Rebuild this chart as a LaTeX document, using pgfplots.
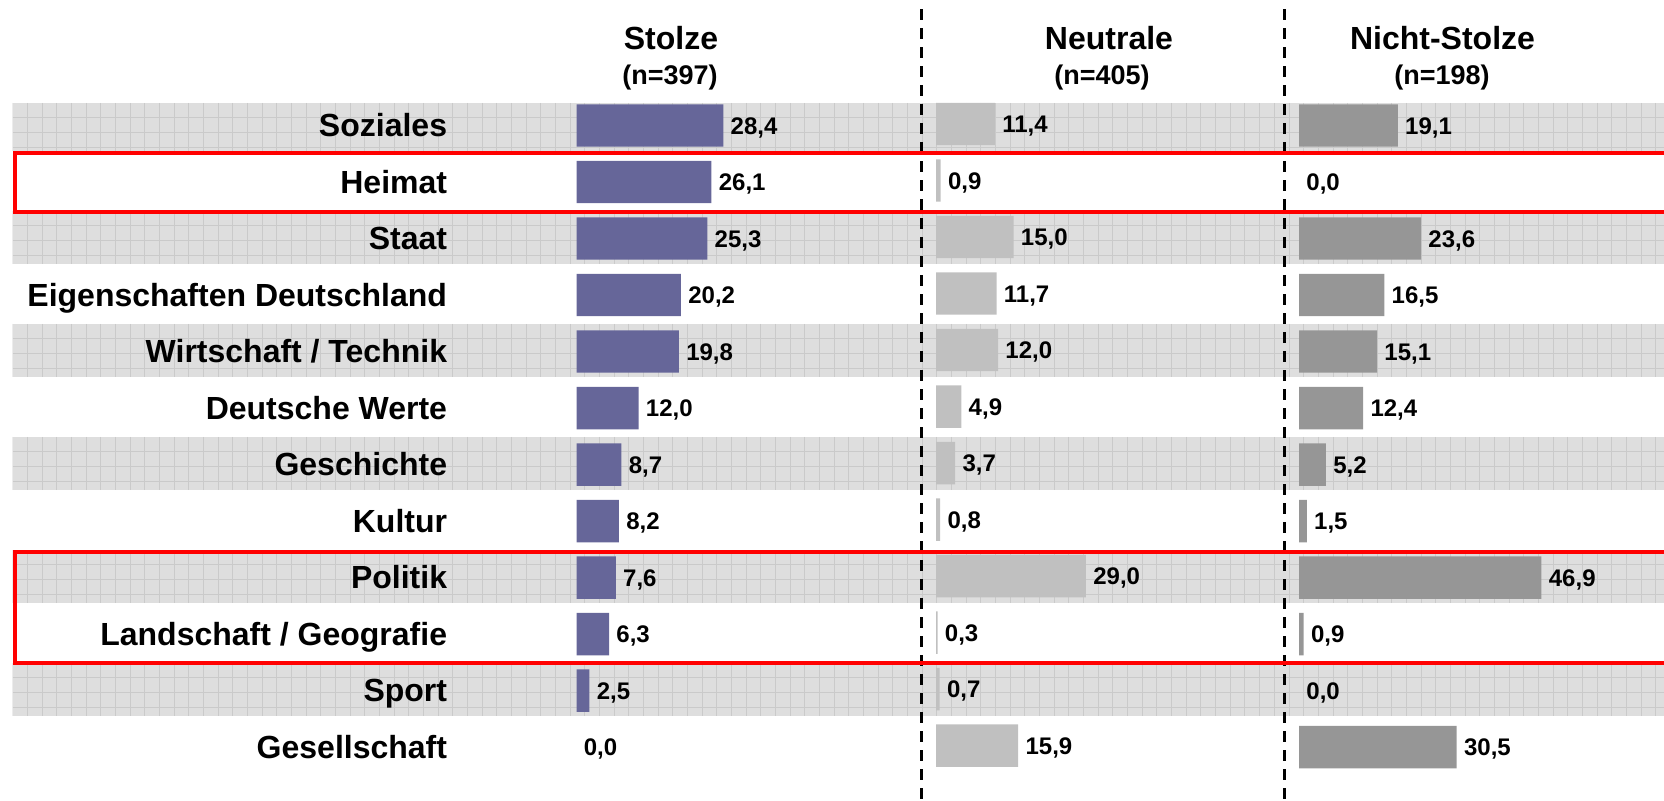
\documentclass[border=0pt]{standalone}
\usepackage{pgfplots}
\pgfplotsset{compat=1.18}
\usepackage{pgfplotstable}
\usepackage{fontspec}
\setmainfont{Liberation Sans}
\definecolor{stolz}{RGB}{102,102,153}
\definecolor{neutr}{RGB}{192,192,192}
\definecolor{nicht}{RGB}{150,150,150}
\definecolor{bandc}{RGB}{222,222,222}
\definecolor{gridc}{RGB}{202,202,202}

\pgfplotstableread{
row stolze neutrale nicht
0 28.4 11.4 19.1
1 26.1 0.9 0.0
2 25.3 15.0 23.6
3 20.2 11.7 16.5
4 19.8 12.0 15.1
5 12.0 4.9 12.4
6 8.7 3.7 5.2
7 8.2 0.8 1.5
8 7.6 29.0 46.9
9 6.3 0.3 0.9
10 2.5 0.7 0.0
11 0.0 15.9 30.5
}\data

\newcommand{\band}[2]{%
  \fill[bandc] (12.7,#1) rectangle (1664,#2);
  \begin{scope}
    \clip (12.7,#1) rectangle (1664,#2);
    \foreach \gx in {0,...,113} {\draw[gridc, line width=0.5pt] ({12.7+14.67*\gx},#1) -- ({12.7+14.67*\gx},#2);}
    \foreach \gy in {1,...,4} {\draw[gridc, line width=0.5pt] (12.7,{#1+14.67*\gy}) -- (1664,{#1+14.67*\gy});}
  \end{scope}}

\pgfplotsset{
  panel/.style={
    scale only axis, anchor=north west, height=339pt,
    xmin=0, ymin=-0.5, ymax=11.5, y dir=reverse,
    xbar, bar width=0.752, bar shift=0pt,
    axis line style={draw=none}, tick style={draw=none},
    xtick=\empty, ytick=\empty, clip=false,
    point meta=x,
    every node near coord/.append style={font=\bfseries\fontsize{12}{14}\selectfont,
      anchor=base west, inner sep=0pt, xshift=3.5pt, yshift=-4.3pt, text=black},
    /pgf/number format/.cd, fixed, fixed zerofill, precision=1, use comma, assume math mode=true,
  },
  bars/.style={fill=#1, draw=none, restrict x to domain=0.05:100},
  vals/.style={fill=none, draw=none, nodes near coords, nodes near coords align=horizontal},
}

\begin{document}
\begin{tikzpicture}
\path[use as bounding box] (0pt,0pt) rectangle (832pt,-400.5pt);
\begin{scope}[x=0.5pt, y=-0.5pt]
  \band{103}{151}
  \band{211}{264}
  \band{324}{377}
  \band{437}{490}
  \band{550}{603}
  \band{663}{716}
  \draw[black, line width=1.5pt, dash pattern=on 5.35pt off 4.15pt] (921,9.3) -- (921,801);
  \draw[black, line width=1.5pt, dash pattern=on 5.35pt off 4.15pt] (1284,9.3) -- (1284,801);
\end{scope}

\begin{axis}[panel, at={(288.25pt,-48.625pt)}, width=155.1pt, xmax=60,
  ytick={0,...,11},
  yticklabels={Soziales,Heimat,Staat,Eigenschaften Deutschland,Wirtschaft / Technik,Deutsche Werte,Geschichte,Kultur,Politik,Landschaft / Geografie,Sport,Gesellschaft},
  yticklabel style={font=\bfseries\fontsize{16}{19}\selectfont, anchor=base east, inner sep=0pt, xshift=-60.25pt, yshift=-5.73pt}]
  \addplot[bars=stolz] table[x=stolze, y=row] {\data};
  \addplot[vals] table[x=stolze, y=row] {\data};
\end{axis}

\begin{axis}[panel, at={(468pt,-47.875pt)}, width=155.1pt, xmax=60]
  \addplot[bars=neutr] table[x=neutrale, y=row] {\data};
  \addplot[vals] table[x=neutrale, y=row] {\data};
\end{axis}

\begin{axis}[panel, at={(649.5pt,-48.625pt)}, width=180.95pt, xmax=70]
  \addplot[bars=nicht] table[x=nicht, y=row] {\data};
  \addplot[vals] table[x=nicht, y=row] {\data};
\end{axis}

\begin{scope}[x=0.5pt, y=-0.5pt]
  \draw[red, line width=2pt] (1664,152.7) -- (14.7,152.7) -- (14.7,212) -- (1664,212);
  \draw[red, line width=2pt] (1664,552.2) -- (14.7,552.2) -- (14.7,663.3) -- (1664,663.3);
  \node[font=\bfseries\fontsize{16}{19}\selectfont, anchor=base] at (671,50) {Stolze};
  \node[font=\bfseries\fontsize{13.5}{16}\selectfont, anchor=base] at (670,85) {(n=397)};
  \node[font=\bfseries\fontsize{16}{19}\selectfont, anchor=base] at (1109,50) {Neutrale};
  \node[font=\bfseries\fontsize{13.5}{16}\selectfont, anchor=base] at (1102,85) {(n=405)};
  \node[font=\bfseries\fontsize{16}{19}\selectfont, anchor=base] at (1442.5,50) {Nicht-Stolze};
  \node[font=\bfseries\fontsize{13.5}{16}\selectfont, anchor=base] at (1442,85) {(n=198)};
\end{scope}
\end{tikzpicture}
\end{document}
